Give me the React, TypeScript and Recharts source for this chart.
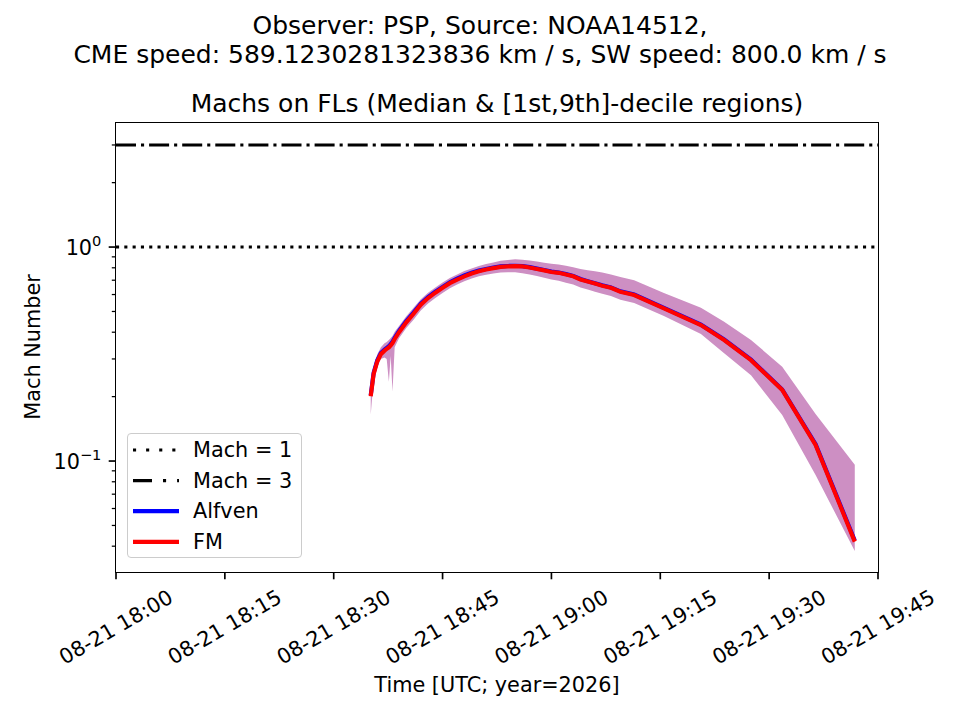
import { Area, ComposedChart, Line, ReferenceLine, XAxis, YAxis } from "recharts";

// minutes after 08-21 18:00 UTC
const minutes = [
  35.1, 35.5, 36.0, 36.5, 37.0, 37.3, 37.6, 37.85, 38.1, 38.4, 39.0, 40, 41, 42, 43, 44, 45, 46, 47,
  48, 49, 50, 51, 52, 53, 54, 55, 56, 57, 58, 59, 60, 61, 62, 63, 64, 65, 66, 67, 68.2, 69.5, 71.4,
  75.5, 80.6, 83.8, 87.5, 91.8, 96.4, 101.8,
];
const fmMedian = [
  0.201, 0.255, 0.292, 0.316, 0.328, 0.334, 0.34, 0.347, 0.356, 0.372, 0.4, 0.445, 0.488, 0.538,
  0.578, 0.612, 0.645, 0.678, 0.705, 0.73, 0.752, 0.77, 0.785, 0.797, 0.808, 0.812, 0.815, 0.812,
  0.803, 0.79, 0.778, 0.765, 0.758, 0.745, 0.73, 0.706, 0.69, 0.675, 0.66, 0.645, 0.618, 0.597,
  0.517, 0.432, 0.368, 0.296, 0.215, 0.119, 0.042,
];
const alfvenMedian = [
  0.203, 0.258, 0.296, 0.32, 0.332, 0.338, 0.344, 0.352, 0.361, 0.377, 0.405, 0.451, 0.494, 0.544,
  0.584, 0.618, 0.651, 0.684, 0.711, 0.736, 0.758, 0.776, 0.79, 0.802, 0.812, 0.816, 0.818, 0.815,
  0.806, 0.793, 0.781, 0.768, 0.761, 0.748, 0.733, 0.709, 0.693, 0.678, 0.663, 0.648, 0.621, 0.6,
  0.52, 0.434, 0.37, 0.298, 0.216, 0.12, 0.0425,
];
const bandLow = [
  0.165, 0.24, 0.275, 0.3, 0.305, 0.3, 0.235, 0.31, 0.211, 0.34, 0.375, 0.418, 0.458, 0.505, 0.545,
  0.578, 0.61, 0.642, 0.668, 0.692, 0.713, 0.73, 0.743, 0.752, 0.76, 0.762, 0.762, 0.755, 0.745,
  0.732, 0.718, 0.705, 0.695, 0.682, 0.668, 0.648, 0.633, 0.618, 0.605, 0.59, 0.568, 0.548, 0.476,
  0.392, 0.319, 0.252, 0.164, 0.086, 0.038,
];
const bandHigh = [
  0.215, 0.275, 0.315, 0.34, 0.355, 0.36, 0.368, 0.376, 0.384, 0.402, 0.428, 0.475, 0.52, 0.57,
  0.612, 0.648, 0.683, 0.716, 0.745, 0.772, 0.795, 0.815, 0.833, 0.848, 0.862, 0.87, 0.877, 0.873,
  0.866, 0.855, 0.845, 0.835, 0.828, 0.818, 0.805, 0.79, 0.78, 0.77, 0.76, 0.745, 0.725, 0.7, 0.61,
  0.52, 0.448, 0.368, 0.276, 0.166, 0.096,
];

const xTicks = [0, 15, 30, 45, 60, 75, 90, 105];
const xTickLabels = [
  "08-21 18:00",
  "08-21 18:15",
  "08-21 18:30",
  "08-21 18:45",
  "08-21 19:00",
  "08-21 19:15",
  "08-21 19:30",
  "08-21 19:45",
];
const yMajor = [0.1, 1];
const yMajorExp = ["\u22121", "0"];
const yMinor = [0.04, 0.05, 0.06, 0.07, 0.08, 0.09, 0.2, 0.3, 0.4, 0.5, 0.6, 0.7, 0.8, 0.9, 2, 3];

const legendLabels = ["Mach = 1", "Mach = 3", "Alfven", "FM"];

const rows = minutes.map((t, i) => ({
  t,
  fm: fmMedian[i],
  alfven: alfvenMedian[i],
  band: [bandLow[i], bandHigh[i]],
}));

const FONT = "DejaVu Sans, sans-serif";
const PLOT = { left: 116, top: 123, right: 878, bottom: 572 };

function XTick({ x, y, payload }: any) {
  const i = xTicks.indexOf(payload.value);
  const cy = y + 14.6 + 40.5;
  return (
    <g>
      <line x1={x} x2={x} y1={y} y2={y + 7.3} stroke="#000" strokeWidth={1.67} />
      <text
        x={x}
        y={cy}
        textAnchor="middle"
        dominantBaseline="central"
        transform={`rotate(-30, ${x}, ${cy})`}
        fontFamily={FONT}
        fontSize={20.8}
        fill="#000"
      >
        {xTickLabels[i]}
      </text>
    </g>
  );
}

function YTick({ x, y, payload }: any) {
  const i = yMajor.indexOf(payload.value);
  const major = i >= 0;
  return (
    <g>
      <line
        x1={x - (major ? 7.3 : 4.2)}
        x2={x}
        y1={y}
        y2={y}
        stroke="#000"
        strokeWidth={major ? 1.67 : 1.25}
      />
      {major && (
        <text x={x - 14.6} y={y + 7.5} textAnchor="end" fontFamily={FONT} fontSize={20.8} fill="#000">
          10
          <tspan dy={-9} fontSize={14.6}>
            {yMajorExp[i]}
          </tspan>
        </text>
      )}
    </g>
  );
}

function LegendBox() {
  const handles = [
    { stroke: "#000", dash: "3.1 10", w: 3.1 },
    { stroke: "#000", dash: "19 11 3.1 11", w: 3.1 },
    { stroke: "#0000ff", dash: undefined, w: 4.17 },
    { stroke: "#ff0000", dash: undefined, w: 4.17 },
  ];
  return (
    <div
      style={{
        position: "absolute",
        left: 127,
        top: 433,
        width: 175,
        height: 125,
        boxSizing: "border-box",
        border: "1.5px solid #cccccc",
        borderRadius: 4,
        background: "rgba(255,255,255,0.8)",
      }}
    >
      <svg width={175} height={125} style={{ position: "absolute", left: -1.5, top: -1.5 }}>
        {legendLabels.map((label, i) => {
          const cy = 17 + i * 30.6;
          const h = handles[i];
          return (
            <g key={label}>
              <line x1={6} x2={52} y1={cy} y2={cy} stroke={h.stroke} strokeWidth={h.w} strokeDasharray={h.dash} />
              <text x={66} y={cy} dominantBaseline="central" fontFamily={FONT} fontSize={20.8} fill="#000">
                {label}
              </text>
            </g>
          );
        })}
      </svg>
    </div>
  );
}

export default function App() {
  const titleStyle = {
    position: "absolute" as const,
    fontFamily: FONT,
    fontSize: 25,
    whiteSpace: "nowrap" as const,
    transform: "translate(-50%, -50%)",
    lineHeight: 1,
  };
  return (
    <div style={{ position: "absolute", left: 0, top: 0, width: 960, height: 720, background: "#fff" }}>
      <ComposedChart
        width={960}
        height={720}
        data={rows}
        margin={{ top: PLOT.top, right: 960 - PLOT.right, bottom: 720 - PLOT.bottom - 100, left: PLOT.left - 80 }}
      >
        <XAxis
          dataKey="t"
          type="number"
          domain={[0, 105]}
          ticks={xTicks}
          interval={0}
          allowDataOverflow
          height={100}
          axisLine={false}
          tickLine={false}
          tickSize={0}
          tickMargin={0}
          tick={<XTick />}
        />
        <YAxis
          type="number"
          scale="log"
          domain={[0.0303, 3.8]}
          ticks={[...yMinor, ...yMajor]}
          interval={0}
          allowDataOverflow
          width={80}
          axisLine={false}
          tickLine={false}
          tickSize={0}
          tickMargin={0}
          tick={<YTick />}
        />
        <Area
          dataKey="band"
          type="linear"
          stroke="none"
          fill="#cd8fc3"
          fillOpacity={1}
          isAnimationActive={false}
        />
        <ReferenceLine y={1} stroke="#000" strokeWidth={3.1} strokeDasharray="3.1 5.2" />
        <ReferenceLine y={3} stroke="#000" strokeWidth={3.1} strokeDasharray="20 5 3.1 5" />
        <Line dataKey="alfven" type="linear" stroke="#0000ff" strokeWidth={4.17} dot={false} isAnimationActive={false} />
        <Line dataKey="fm" type="linear" stroke="#ff0000" strokeWidth={4.17} dot={false} isAnimationActive={false} />
      </ComposedChart>
      <div
        style={{
          position: "absolute",
          left: PLOT.left - 0.83,
          top: PLOT.top - 0.83,
          width: PLOT.right - PLOT.left + 1.67,
          height: PLOT.bottom - PLOT.top + 1.67,
          boxSizing: "border-box",
          border: "1.67px solid #000",
          pointerEvents: "none",
        }}
      />
      <LegendBox />
      <div style={{ ...titleStyle, left: 480, top: 25 }}>Observer: PSP, Source: NOAA14512,</div>
      <div style={{ ...titleStyle, left: 480, top: 54 }}>
        CME speed: 589.1230281323836 km / s, SW speed: 800.0 km / s
      </div>
      <div style={{ ...titleStyle, left: 497, top: 103 }}>Machs on FLs (Median &amp; [1st,9th]-decile regions)</div>
      <div style={{ ...titleStyle, fontSize: 20.8, left: 497, top: 685 }}>Time [UTC; year=2026]</div>
      <div style={{ ...titleStyle, fontSize: 20.8, left: 33, top: 347, transform: "translate(-50%, -50%) rotate(-90deg)" }}>
        Mach Number
      </div>
    </div>
  );
}
